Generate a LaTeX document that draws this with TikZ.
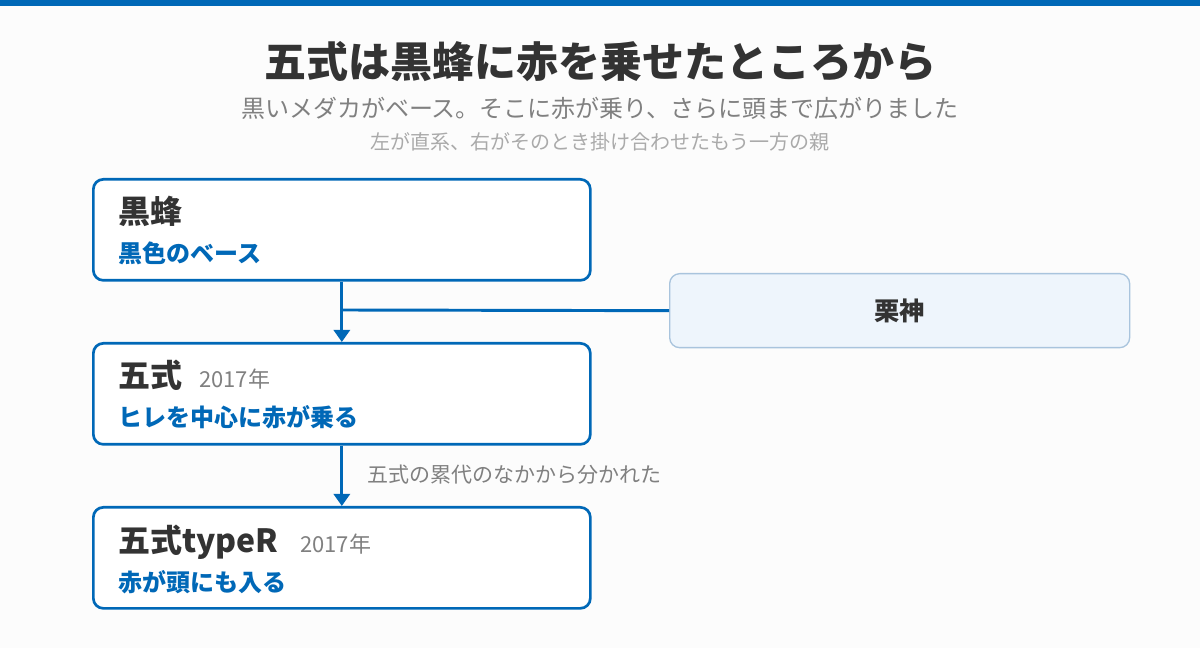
\documentclass[tikz,border=0pt]{standalone}
\usepackage{fontspec}
\setmainfont{Noto Sans CJK JP}
\usetikzlibrary{arrows.meta}
\definecolor{blu}{HTML}{0068B7}
\definecolor{ink}{HTML}{333333}
\definecolor{gr}{HTML}{808080}
\definecolor{lgr}{HTML}{AAAAAA}
\definecolor{pale}{HTML}{EEF5FC}
\definecolor{pbd}{HTML}{A9C4DD}
\definecolor{bg}{HTML}{FCFCFC}
\begin{document}
\begin{tikzpicture}[x=0.75pt,y=-0.75pt,
 box/.style={draw=blu,line width=2pt,fill=white,rounded corners=7.5pt,minimum width=372.75pt,minimum height=75.75pt,anchor=north west},
 ttl/.style={anchor=base west,font=\fontsize{24}{28}\selectfont\bfseries,text=ink,inner sep=0},
 sub/.style={anchor=base west,font=\fontsize{18}{22}\selectfont\bfseries,text=blu,inner sep=0},
 yr/.style={anchor=base west,font=\fontsize{16.5}{20}\selectfont,text=gr,inner sep=0},
 conn/.style={draw=blu,line width=2.2pt},
 arr/.style={conn,-{Triangle[length=9pt,width=12pt]}}]
\useasboundingbox (0,0) rectangle (1200,648);
\fill[bg] (0,0) rectangle (1200,648);
\fill[blu] (0,0) rectangle (1200,6);
\node[font=\fontsize{31.5}{36}\selectfont\bfseries,text=ink] (t) at (600,62) {五式は黒蜂に赤を乗せたところから};
\node[font=\fontsize{18}{22}\selectfont,text=gr] (s) at (600,108) {黒いメダカがベース。そこに赤が乗り、さらに頭まで広がりました};
\node[font=\fontsize{15}{18}\selectfont,text=lgr] (s2) at (600,142) {左が直系、右がそのとき掛け合わせたもう一方の親};
\node[box] (b1) at (92,178) {};
\node[box] (b2) at (92,342) {};
\node[box] (b3) at (92,506) {};
\node[draw=pbd,line width=1pt,fill=pale,rounded corners=7.5pt,minimum width=345pt,minimum height=55.5pt,anchor=north west] (r) at (669,273) {};
\node[font=\fontsize{19}{22}\selectfont\bfseries,text=ink] (rl) at (r.center) {栗神};
\node[ttl] (l1) at (118,224) {黒蜂};
\node[sub] (m1) at (118,263) {黒色のベース};
\node[ttl] (l2) at (118,388) {五式};
\node[yr] (y2) at (199,388) {2017年};
\node[sub] (m2) at (118,427) {ヒレを中心に赤が乗る};
\node[ttl] (l3) at (118,552) {五式typeR};
\node[yr] (y3) at (300,552) {2017年};
\node[sub] (m3) at (118,591) {赤が頭にも入る};
\coordinate (j) at (341,310);
\draw[arr] (b1.south) -- (b2.north);
\draw[conn] (r.west) -- (j);
\draw[arr] (b2.south) -- (b3.north);
\node[anchor=west,inner sep=0,font=\fontsize{15.75}{19}\selectfont,text=gr] (el) at (367,475) {五式の累代のなかから分かれた};
\end{tikzpicture}
\end{document}
